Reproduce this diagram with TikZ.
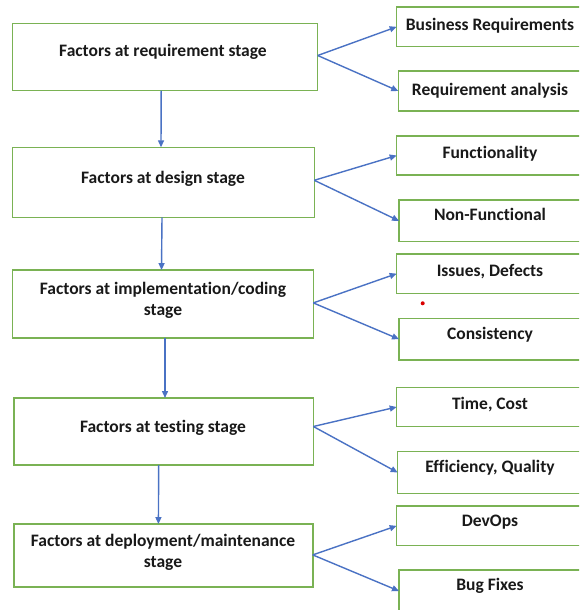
\documentclass[tikz,border=0pt]{standalone}
\usepackage{fontspec}
\setmainfont{Carlito}[Ligatures=NoCommon]
\usetikzlibrary{arrows.meta}
\definecolor{boxgreen}{RGB}{122,178,84}
\definecolor{arrowblue}{RGB}{74,114,196}
\definecolor{ink}{RGB}{25,25,25}
\begin{document}
\begin{tikzpicture}[x=1pt,y=-1pt,
  frame/.style={draw=boxgreen, line width=1.5pt, inner sep=0pt, outer sep=0pt},
  caption/.style={inner sep=0pt, anchor=base, text=ink,
    font=\fontsize{17.5}{21}\selectfont\bfseries},
  flow/.style={draw=arrowblue, line width=1.4pt,
    -{Triangle[length=7pt,width=6pt]}}
]
% page
\useasboundingbox (0,0) rectangle (579,610);
\clip (0,0) rectangle (579,610);
\fill[white] (0,0) rectangle (579,610);

% stage boxes (left column)
\node[frame, minimum width=305pt, minimum height=67.4pt] (L1) at (165.2,57) {};
\node[frame, minimum width=301.6pt, minimum height=70pt] (L2) at (163.5,182.3) {};
\node[frame, minimum width=300.6pt, minimum height=67.7pt] (L3) at (163,303.9) {};
\node[frame, minimum width=299.3pt, minimum height=67pt] (L4) at (163.7,431.5) {};
\node[frame, minimum width=298.7pt, minimum height=62.7pt] (L5) at (163.4,555.4) {};

\node[caption] (L1t) at (163,56.7) {Factors at requirement stage};
\node[caption] (L2t) at (163,183.3) {Factors at design stage};
\node[caption] (L3t) at (163,294.7) {Factors at implementation/coding};
\node[caption] (L3u) at (163,315.3) {stage};
\node[caption] (L4t) at (163,432) {Factors at testing stage};
\node[caption] (L5t) at (163,546.7) {Factors at deployment/maintenance};
\node[caption] (L5u) at (163,567.7) {stage};

% factor boxes (right column)
\node[frame, minimum width=187.3pt, minimum height=39.7pt] (R1) at (490.35,26.85) {};
\node[frame, minimum width=185.7pt, minimum height=40pt] (R2) at (491.15,91) {};
\node[frame, minimum width=187.3pt, minimum height=39pt] (R3) at (490.35,155.5) {};
\node[frame, minimum width=185pt, minimum height=41.7pt] (R4) at (491.5,220.85) {};
\node[frame, minimum width=187.3pt, minimum height=39.3pt] (R5) at (490.35,273.65) {};
\node[frame, minimum width=185pt, minimum height=41.7pt] (R6) at (491.5,339.15) {};
\node[frame, minimum width=187.3pt, minimum height=39.4pt] (R7) at (490.35,407) {};
\node[frame, minimum width=186.3pt, minimum height=41.6pt] (R8) at (490.85,472.5) {};
\node[frame, minimum width=187.3pt, minimum height=39.7pt] (R9) at (490.35,525.85) {};
\node[frame, minimum width=185pt, minimum height=42pt] (R10) at (491.5,591) {};

\node[caption] (R1t) at (490,30.5) {Business Requirements};
\node[caption] (R2t) at (490,95) {Requirement analysis};
\node[caption] (R3t) at (490,158) {Functionality};
\node[caption] (R4t) at (490,220.5) {Non-Functional};
\node[caption] (R5t) at (490,276) {Issues, Defects};
\node[caption] (R6t) at (490,339) {Consistency};
\node[caption] (R7t) at (490,409.5) {Time, Cost};
\node[caption] (R8t) at (490,472.5) {Efficiency, Quality};
\node[caption] (R9t) at (490,526.5) {DevOps};
\node[caption] (R10t) at (490,590.5) {Bug Fixes};

% stage to stage
\draw[flow] ([xshift=-4pt]L1.south) -- ([xshift=-2.5pt]L2.north);
\draw[flow] ([xshift=-1.5pt]L2.south) -- ([xshift=-1.5pt]L3.north);
\draw[flow] ([xshift=2pt]L3.south) -- ([xshift=1.3pt]L4.north);
\draw[flow] ([xshift=-5pt]L4.south) -- ([xshift=-5pt]L5.north);

% stage to factors
\draw[flow] ([yshift=1.5pt]L1.east) -- (R1.west);
\draw[flow] ([yshift=1.5pt]L1.east) -- (R2.west);
\draw[flow] ([yshift=2pt]L2.east) -- (R3.west);
\draw[flow] ([yshift=2pt]L2.east) -- (R4.west);
\draw[flow] ([yshift=1pt]L3.east) -- (R5.west);
\draw[flow] ([yshift=1pt]L3.east) -- (R6.west);
\draw[flow] ([yshift=5pt]L4.east) -- (R7.west);
\draw[flow] ([yshift=5pt]L4.east) -- (R8.west);
\draw[flow] ([yshift=0.5pt]L5.east) -- (R9.west);
\draw[flow] ([yshift=0.5pt]L5.east) -- (R10.west);

% small red mark
\fill[red!85!black] (422.7,303.3) circle (2pt);
\end{tikzpicture}
\end{document}
